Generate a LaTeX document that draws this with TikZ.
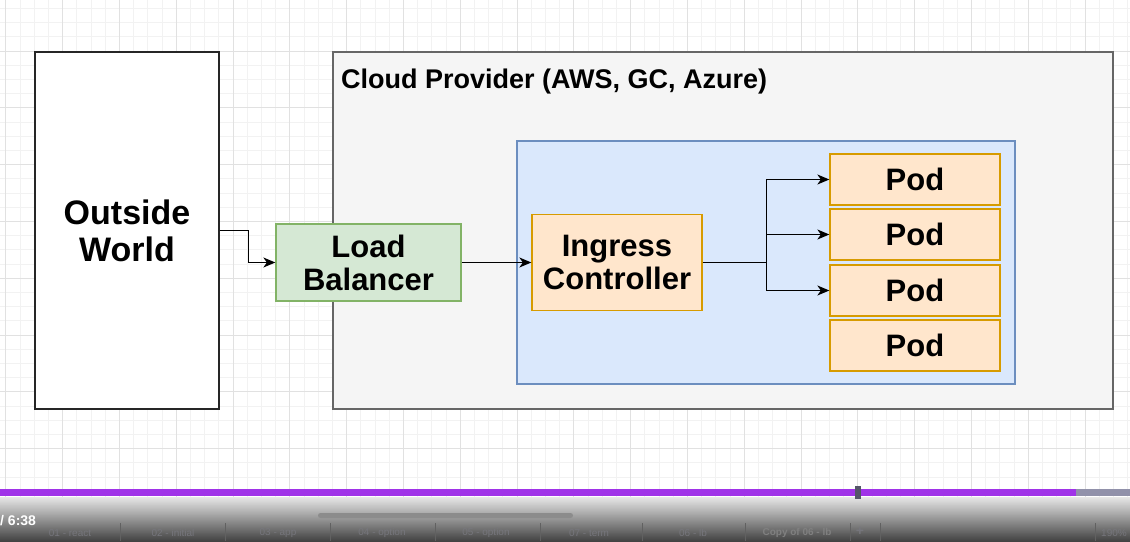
\documentclass[tikz,border=0pt]{standalone}
\usepackage{fontspec}
\setmainfont{Liberation Sans}
\usetikzlibrary{arrows.meta,positioning,calc}

\definecolor{cloudfill}{RGB}{245,245,245}
\definecolor{cloudline}{RGB}{102,102,102}
\definecolor{kfill}{RGB}{218,232,252}
\definecolor{kline}{RGB}{108,142,191}
\definecolor{lbfill}{RGB}{213,232,212}
\definecolor{lbline}{RGB}{130,179,102}
\definecolor{podfill}{RGB}{255,230,204}
\definecolor{podline}{RGB}{215,155,0}
\definecolor{gridminor}{RGB}{242,242,242}
\definecolor{gridmajor}{RGB}{225,225,225}
\definecolor{barpurple}{RGB}{160,51,232}
\definecolor{barrest}{RGB}{145,145,170}
\definecolor{barhead}{RGB}{85,85,105}
\definecolor{tabtext}{RGB}{118,118,124}

\begin{document}
\begin{tikzpicture}[x=1pt,y=-1pt,
  big/.style={font=\fontsize{31}{33}\selectfont\bfseries,align=center,inner sep=0pt,line width=1.3pt},
  blk/.style={big,draw=podline,fill=podfill,minimum width=170pt},
  pod/.style={blk,minimum height=51pt},
  tab/.style={font=\fontsize{10}{12}\selectfont,text=tabtext,inner sep=0pt},
  conn/.style={-{Stealth[length=12pt,width=10pt,inset=3.5pt]},line width=1.3pt}]
  \useasboundingbox (0,0) rectangle (1130,541);
  \fill[white] (0,0) rectangle (1130,541);

  % grid
  \foreach \i in {0,...,80} \draw[gridminor] (5.5+14.2*\i,0) -- (5.5+14.2*\i,497);
  \foreach \i in {0,...,35} \draw[gridminor] (0,8.1+14.2*\i) -- (1130,8.1+14.2*\i);
  \foreach \i in {0,...,20} \draw[gridmajor] (5.5+56.8*\i,0) -- (5.5+56.8*\i,497);
  \foreach \i in {0,...,8} \draw[gridmajor] (0,-6.1+56.8*\i) -- (1130,-6.1+56.8*\i);

  % boxes
  \node[big,draw=black!85,fill=white,minimum width=184pt,minimum height=357pt,
        font=\fontsize{34}{37}\selectfont\bfseries] (ow) at (127,230.5) {Outside\\World};
  \node[draw=cloudline,fill=cloudfill,line width=1.3pt,minimum width=780pt,minimum height=357pt] (cp) at (723,230.5) {};
  \node[anchor=west,font=\fontsize{27}{30}\selectfont\bfseries,inner sep=0pt] (cptitle) at (341,82) {Cloud Provider (AWS, GC, Azure)};
  \node[draw=kline,fill=kfill,line width=1.3pt,minimum width=498pt,minimum height=243pt] (k8s) at (766,262.5) {};
  \node[big,draw=lbline,fill=lbfill,minimum width=185pt,minimum height=77pt] (lb) at (368.5,262.5) {Load\\Balancer};
  \node[blk,minimum height=96pt] (ic) at (617,262.5) {Ingress\\Controller};
  \node[pod] (p1) at (915,179.5) {Pod};
  \node[pod] (p2) at (915,234.5) {Pod};
  \node[pod] (p3) at (915,290.5) {Pod};
  \node[pod] (p4) at (915,345.5) {Pod};

  % connectors
  \draw[conn] (ow.east) -- ++(29,0) |- (lb.west);
  \draw[conn] (lb.east) -- (lb.east -| ic.west);
  \coordinate (split) at ($(ic.east)+(64,0)$);
  \draw[line width=1.3pt] (ic.east) -- (split);
  \draw[conn] (split) |- (p1.west);
  \draw[conn] (split) |- (p2.west);
  \draw[conn] (split) |- (p3.west);

  % player bar
  \shade[top color=black!10,bottom color=black!80,opacity=0.92] (0,497) rectangle (1130,541);
  \fill[barpurple] (0,489) rectangle (1076,496);
  \fill[barrest] (1076,489) rectangle (1130,496);
  \fill[barhead] (855,486) rectangle (861,499);
  \fill[black!45,rounded corners=2.5pt] (318,513) rectangle (573,518);
  \node[anchor=west,text=white,font=\fontsize{14}{16}\selectfont\bfseries,inner sep=0pt] (time) at (0,521) {/ 6:38};
  \foreach \x in {120,225,330,435,540,642,745,850,880,1095}
    \draw[black!62] (\x,523) -- (\x,541);
  \node[tab] (t1) at (70,533) {01 - react};
  \node[tab] (t2) at (173,533) {02 - initial};
  \node[tab] (t3) at (278,533) {03 - app};
  \node[tab] (t4) at (382,533) {04 - option};
  \node[tab] (t5) at (486,533) {05 - option};
  \node[tab] (t6) at (589,533) {07 - term};
  \node[tab] (t7) at (693,533) {06 - lb};
  \node[tab,font=\fontsize{10}{12}\selectfont\bfseries,text=black!50] (t8) at (797,533) {Copy of 06 - lb};
  \node[tab,font=\fontsize{14}{14}\selectfont\bfseries] (tadd) at (860,531) {+};
  \node[tab] (zoom) at (1114,533) {190\%};
\end{tikzpicture}
\end{document}
